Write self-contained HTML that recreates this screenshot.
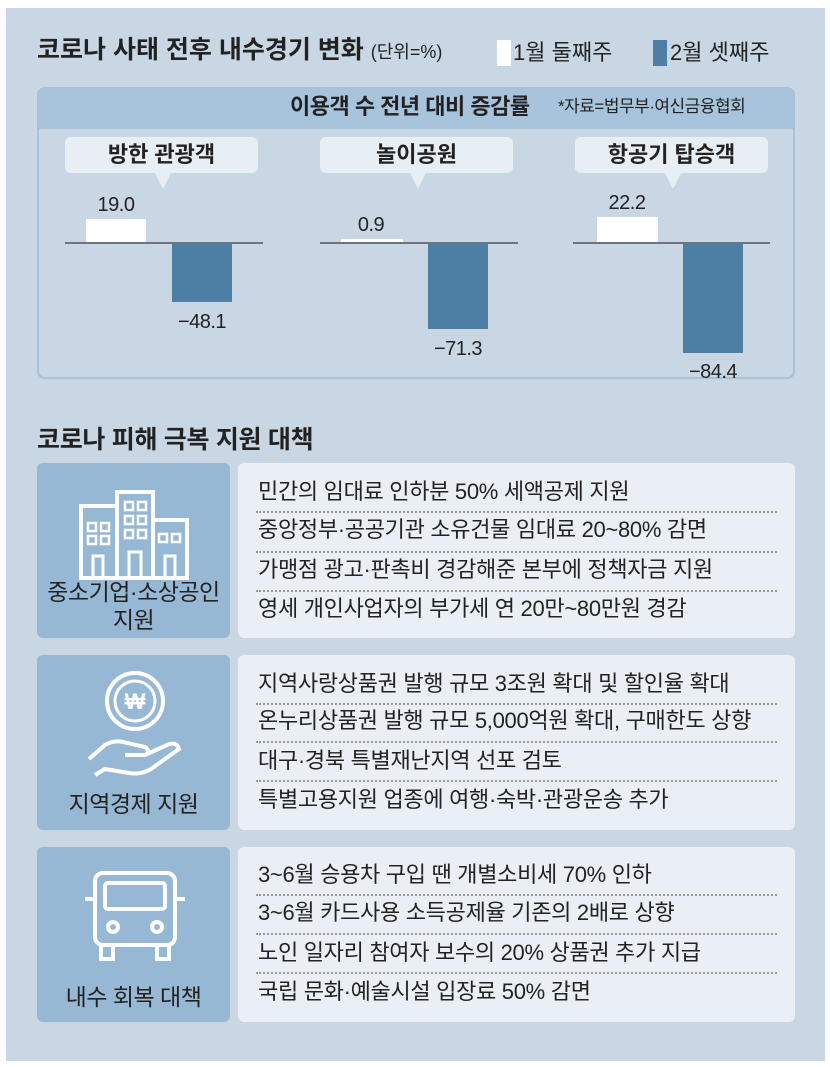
<!DOCTYPE html>
<html><head><meta charset="utf-8"><style>
*{margin:0;padding:0;box-sizing:border-box}
body{width:830px;height:1067px;background:#fff;font-family:"Liberation Sans","Noto Sans CJK KR",sans-serif;color:#222;position:relative;overflow:hidden}
.a{position:absolute;white-space:nowrap}
.bg{left:6px;top:8px;width:819px;height:1053px;background:#c9d7e4}
.lb{position:absolute;left:37px;width:193px;height:175px;background:#97b8d5;border-radius:6px}
.rb{position:absolute;left:238px;width:557px;height:175px;background:#e9eff4;border-radius:6px}
.ln{position:absolute;left:20px;font-size:22px;line-height:24px;letter-spacing:-0.3px;color:#222;white-space:nowrap}
.dt{position:absolute;left:18px;right:18px;border-top:2px dotted #999}
.lt{position:absolute;left:-10px;width:213px;text-align:center;font-size:23px;line-height:26px;color:#222;letter-spacing:-0.5px;white-space:nowrap}
.bub{position:absolute;top:137px;width:193px;height:36px;background:#e7eef4;border-radius:6px;text-align:center;font-size:22px;font-weight:bold;line-height:36px;color:#222}
.bub:after{content:"";position:absolute;left:90px;top:36px;border-left:8px solid transparent;border-right:8px solid transparent;border-top:16px solid #e7eef4}
.base{position:absolute;top:242px;height:2px;background:#6b7480}
.w{position:absolute;background:#fff}
.b{position:absolute;background:#4d7ea4}
.v{position:absolute;font-size:20px;line-height:22px;width:80px;text-align:center;letter-spacing:-0.5px;color:#222}
</style></head><body>
<div class="a bg"></div>
<div class="a" style="left:37px;top:36px;font-size:25px;line-height:28px;font-weight:bold">코로나 사태 전후 내수경기 변화 <span style="font-weight:normal;font-size:18px">(단위=%)</span></div>
<div class="a" style="left:497px;top:40px;width:14px;height:26px;background:#fff"></div>
<div class="a" style="left:513px;top:40px;font-size:22px;line-height:26px">1월 둘째주</div>
<div class="a" style="left:653px;top:40px;width:14px;height:26px;background:#4d7ea4"></div>
<div class="a" style="left:670px;top:40px;font-size:22px;line-height:26px">2월 셋째주</div>

<div class="a" style="left:37px;top:87px;width:758px;height:292px;border:2px solid #a9c0d5;border-radius:8px;overflow:hidden">
<div style="position:absolute;left:0;top:0;width:100%;height:40px;background:#a8c3dc"></div>
</div>
<div class="a" style="left:290px;top:94px;font-size:22px;line-height:26px;font-weight:bold;letter-spacing:-0.5px">이용객 수 전년 대비 증감률</div>
<div class="a" style="left:558px;top:97px;font-size:17px;line-height:20px;letter-spacing:-0.5px">*자료=법무부·여신금융협회</div>

<div class="bub" style="left:65px">방한 관광객</div>
<div class="bub" style="left:320px">놀이공원</div>
<div class="bub" style="left:575px">항공기 탑승객</div>

<div class="w" style="left:86px;top:219px;width:60px;height:24px"></div>
<div class="b" style="left:172px;top:243px;width:60px;height:59px"></div>
<div class="w" style="left:341px;top:239px;width:62px;height:4px"></div>
<div class="b" style="left:428px;top:243px;width:60px;height:86px"></div>
<div class="w" style="left:597px;top:217px;width:61px;height:26px"></div>
<div class="b" style="left:683px;top:243px;width:60px;height:110px"></div>
<div class="base" style="left:65px;width:198px"></div>
<div class="base" style="left:320px;width:198px"></div>
<div class="base" style="left:573px;width:197px"></div>
<div class="v" style="left:76px;top:194px">19.0</div>
<div class="v" style="left:162px;top:311px">−48.1</div>
<div class="v" style="left:331px;top:214px">0.9</div>
<div class="v" style="left:418px;top:338px">−71.3</div>
<div class="v" style="left:587px;top:192px">22.2</div>
<div class="v" style="left:673px;top:361px">−84.4</div>

<div class="a" style="left:37px;top:426px;font-size:25px;line-height:28px;font-weight:bold;letter-spacing:-0.3px">코로나 피해 극복 지원 대책</div>

<!-- row1 -->
<div class="lb" style="top:463px">
<svg style="position:absolute;left:42px;top:27px" width="112" height="90" viewBox="0 0 112 90" fill="none" stroke="#fff" stroke-width="4">
<rect x="2" y="16" width="36" height="72"/><rect x="38" y="2" width="36" height="86"/><rect x="74" y="30" width="34" height="58"/>
<g stroke-width="2.5"><rect x="9" y="33" width="8" height="8"/><rect x="22" y="33" width="8" height="8"/><rect x="9" y="46" width="8" height="8"/><rect x="22" y="46" width="8" height="8"/>
<rect x="46" y="12" width="8" height="8"/><rect x="59" y="12" width="8" height="8"/><rect x="46" y="26" width="8" height="8"/><rect x="59" y="26" width="8" height="8"/><rect x="46" y="40" width="8" height="8"/><rect x="59" y="40" width="8" height="8"/>
<rect x="80" y="44" width="8" height="8"/><rect x="93" y="44" width="8" height="8"/></g>
<path d="M14 86V66h10v20M50 86V62h12v24M86 86V66h10v20" stroke-width="3"/>
</svg>
<div class="lt" style="top:116px">중소기업·소상공인</div>
<div class="lt" style="top:144px">지원</div>
</div>
<div class="rb" style="top:463px">
<div class="ln" style="top:17px">민간의 임대료 인하분 50% 세액공제 지원</div>
<div class="dt" style="top:48px"></div>
<div class="ln" style="top:55px">중앙정부·공공기관 소유건물 임대료 20~80% 감면</div>
<div class="dt" style="top:88px"></div>
<div class="ln" style="top:95px">가맹점 광고·판촉비 경감해준 본부에 정책자금 지원</div>
<div class="dt" style="top:127px"></div>
<div class="ln" style="top:134px">영세 개인사업자의 부가세 연 20만~80만원 경감</div>
</div>

<!-- row2 -->
<div class="lb" style="top:655px">
<svg style="position:absolute;left:48px;top:14px" width="100" height="110" viewBox="0 0 100 110" fill="none" stroke="#fff" stroke-width="4">
<circle cx="50" cy="32" r="28"/><circle cx="50" cy="32" r="20" stroke-width="3"/>
<text x="50" y="40" text-anchor="middle" font-size="22" font-weight="bold" fill="#fff" stroke="none" font-family="Liberation Sans,sans-serif">₩</text>
<path d="M4 90 L20 76 Q30 70 42 74 L60 78 Q66 82 60 86 L40 86 M60 86 L82 76 Q92 72 94 80 L66 100 Q56 106 44 104 L20 100 L10 106"/>
</svg>
<div class="lt" style="top:136px">지역경제 지원</div>
</div>
<div class="rb" style="top:655px">
<div class="ln" style="top:17px">지역사랑상품권 발행 규모 3조원 확대 및 할인율 확대</div>
<div class="dt" style="top:48px"></div>
<div class="ln" style="top:54px">온누리상품권 발행 규모 5,000억원 확대, 구매한도 상향</div>
<div class="dt" style="top:86px"></div>
<div class="ln" style="top:94px">대구·경북 특별재난지역 선포 검토</div>
<div class="dt" style="top:125px"></div>
<div class="ln" style="top:133px">특별고용지원 업종에 여행·숙박·관광운송 추가</div>
</div>

<!-- row3 -->
<div class="lb" style="top:847px">
<svg style="position:absolute;left:44px;top:22px" width="108" height="96" viewBox="0 0 108 96" fill="none" stroke="#fff" stroke-width="4">
<rect x="14" y="4" width="80" height="72" rx="8"/><rect x="24" y="14" width="60" height="26" rx="3"/>
<path d="M4 30h10M94 30h10"/><circle cx="32" cy="58" r="5"/><circle cx="76" cy="58" r="5"/>
<path d="M20 76v14h12V76M76 76v14h12V76"/>
</svg>
<div class="lt" style="top:137px">내수 회복 대책</div>
</div>
<div class="rb" style="top:847px">
<div class="ln" style="top:16px">3~6월 승용차 구입 땐 개별소비세 70% 인하</div>
<div class="dt" style="top:47px"></div>
<div class="ln" style="top:54px">3~6월 카드사용 소득공제율 기존의 2배로 상향</div>
<div class="dt" style="top:86px"></div>
<div class="ln" style="top:94px">노인 일자리 참여자 보수의 20% 상품권 추가 지급</div>
<div class="dt" style="top:125px"></div>
<div class="ln" style="top:133px">국립 문화·예술시설 입장료 50% 감면</div>
</div>
</body></html>
